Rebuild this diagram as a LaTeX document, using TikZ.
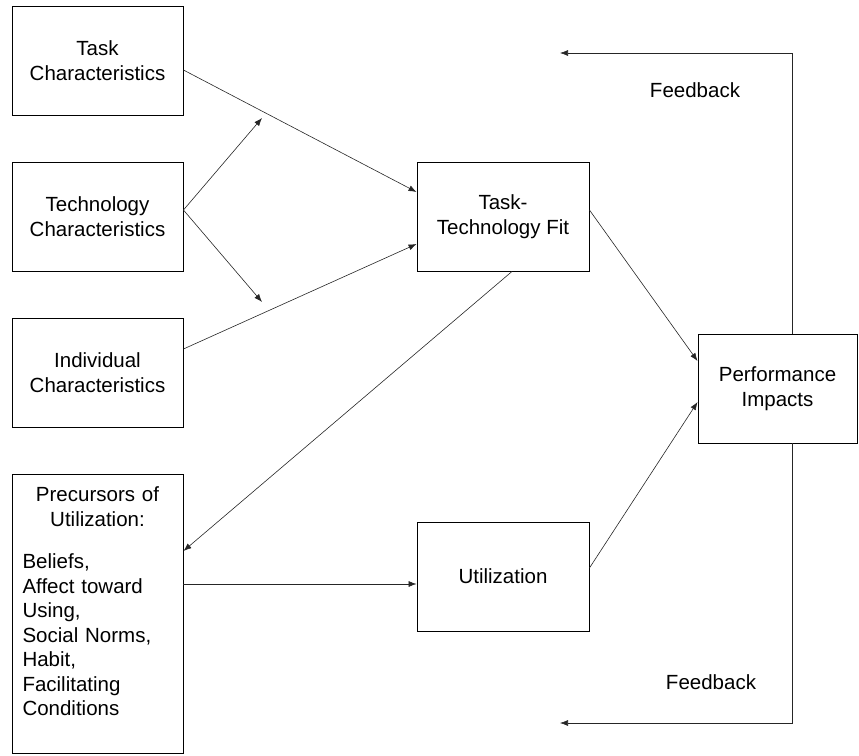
\documentclass[tikz,border=0pt]{standalone}
\usepackage{fontspec}
\setmainfont{Liberation Sans}
\usetikzlibrary{arrows.meta}
\usetikzlibrary{calc}

\begin{document}
\begin{tikzpicture}[
  x=1pt, y=-1pt,
  > = {Latex[length=8pt,width=6pt]},
  every node/.style = {font=\fontsize{20.5}{24.5}\selectfont},
  box/.style = {draw, line width=0.9pt, minimum width=171pt, minimum height=109pt, inner sep=0pt, align=center},
  link/.style = {->, line width=0.6pt, black!85}
  ]
	\useasboundingbox (0,0) rectangle (859,755);

	\node[box] (task) at (97.5,60.5) {Task\\Characteristics};
	\node[box] (tech) at (97.5,216.5) {Technology\\Characteristics};
	\node[box] (indiv) at (97.5,372.5) {Individual\\Characteristics};
	\node[box, minimum height=279pt, text width=150pt, align=left] (prec) at (97.5,613.5)
		{\makebox[150pt][c]{Precursors of}\\\makebox[150pt][c]{Utilization:}\\[18pt]
		 Beliefs,\\Affect toward\\Using,\\Social Norms,\\Habit,\\Facilitating\\Conditions\\\mbox{}};
	\node[box, minimum width=172pt] (ttf) at (503,216.5) {Task-\\Technology Fit};
	\node[box, minimum width=172pt] (util) at (503,576.5) {Utilization};
	\node[box, minimum width=159pt] (perf) at (777.5,388.5) {Performance\\Impacts};

	\coordinate (@1) at (262,118);
	\coordinate (@2) at (262,302);
	\coordinate (@3) at (792,53);
	\coordinate (@4) at (560,53);
	\coordinate (@5) at (792,723);
	\coordinate (@6) at (560,723);

	\draw[link] ([yshift=-9.5pt]task.east) to ([yshift=24.5pt]ttf.west);
	\draw[link] ([yshift=6.5pt]tech.east) to (@1);
	\draw[link] ([yshift=6.5pt]tech.east) to (@2);
	\draw[link] ([yshift=23.5pt]indiv.east) to ([yshift=-27.5pt]ttf.west);
	\draw[link] ([xshift=9pt]ttf.south) to ([yshift=62.5pt]prec.east);
	\draw[link] ([yshift=29.5pt]prec.east) to ([yshift=-7.5pt]util.west);
	\draw[link] ([yshift=6.5pt]ttf.east) to ([yshift=27.5pt]perf.west);
	\draw[link] ([yshift=8.5pt]util.east) to ([yshift=-13.5pt]perf.west);

	\draw[link] ([xshift=14.5pt]perf.north) to (@3) to (@4);
	\draw[link] ([xshift=14.5pt]perf.south) to (@5) to (@6);

	\node (fb1) at (695,90) {Feedback};
	\node (fb2) at (711,682) {Feedback};

\end{tikzpicture}
\end{document}
